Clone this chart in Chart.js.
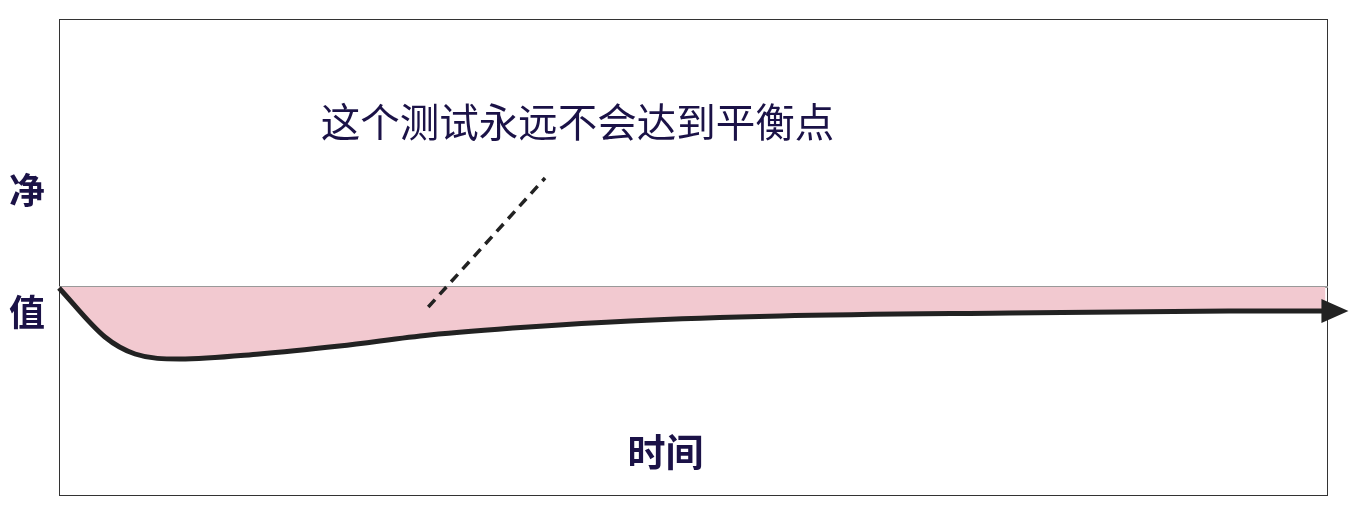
<!DOCTYPE html>
<html>
<head>
<meta charset="utf-8">
<script src="https://cdn.jsdelivr.net/npm/chart.js@4/dist/chart.umd.min.js"></script>
<style>
  html, body { margin: 0; padding: 0; background: #fff; }
  #wrap { width: 1353px; height: 529px; position: relative; }
</style>
</head>
<body>
<div id="wrap"><canvas id="netChart"></canvas></div>
<script>
// 时间轴（0~100 为整个框宽）
var timeX   = [0, 3.62, 6.0, 9.5, 15.8, 22.1, 29.2, 37.0, 45.0, 56.8, 74.9, 92.2, 99.8];
// 净值（0 为平衡线）
var netVal  = [-0.1, -5.0, -6.7, -7.2, -6.7, -5.9, -4.8, -4.0, -3.4, -2.9, -2.6, -2.4, -2.4];
// 平衡线
var zeroX   = [0, 100];
var zeroY   = [0, 0];
// 注释虚线
var noteX   = [29.1, 38.3];
var noteY   = [-2.0, 10.9];
var noteText = '这个测试永远不会达到平衡点';
var yLabels  = ['净', '值'];
var xLabel   = '时间';

function pts(xs, ys) {
	return xs.map(function(x, i) { return { x: x, y: ys[i] }; });
}

var textColor = '#1b1247';

var framePlugin = {
	id: 'frame',
	beforeDatasetsDraw: function(chart) {
		var a = chart.chartArea, ctx = chart.ctx;
		ctx.save();
		ctx.strokeStyle = '#333';
		ctx.lineWidth = 1;
		ctx.strokeRect(a.left + 0.5, a.top + 0.5, a.right - a.left - 1, a.bottom - a.top - 1);
		ctx.restore();
	},
	afterDatasetsDraw: function(chart) {
		var ctx = chart.ctx, a = chart.chartArea;
		var xs = chart.scales.x, ys = chart.scales.y;
		// 箭头
		var meta = chart.getDatasetMeta(0);
		var last = meta.data[meta.data.length - 1];
		ctx.save();
		ctx.fillStyle = '#222';
		ctx.beginPath();
		ctx.moveTo(last.x - 4, last.y - 12);
		ctx.lineTo(last.x + 23, last.y);
		ctx.lineTo(last.x - 4, last.y + 12);
		ctx.closePath();
		ctx.fill();

		// 文字
		ctx.textAlign = 'center';
		ctx.textBaseline = 'middle';
		ctx.fillStyle = textColor;
		ctx.font = '39.5px "Noto Sans CJK SC"';
		ctx.fillText(noteText, xs.getPixelForValue(40.85), ys.getPixelForValue(16.5));

		ctx.font = 'bold 36px "Noto Sans CJK SC"';
		ctx.fillText(yLabels[0], a.left - 32, ys.getPixelForValue(9.7));
		ctx.fillText(yLabels[1], a.left - 32, ys.getPixelForValue(-2.5));

		ctx.font = 'bold 38px "Noto Sans CJK SC"';
		ctx.fillText(xLabel, xs.getPixelForValue(47.8), ys.getPixelForValue(-16.5));
		ctx.restore();
	}
};

var ctx = document.getElementById('netChart').getContext('2d');
new Chart(ctx, {
	type: 'line',
	data: {
		datasets: [
			{
				data: pts(timeX, netVal),
				borderColor: '#222',
				borderWidth: 5,
				backgroundColor: '#f2c9d0',
				fill: 'origin',
				cubicInterpolationMode: 'monotone',
				pointRadius: 0,
				clip: false,
				order: 1
			},
			{
				data: pts(zeroX, zeroY),
				borderColor: '#999',
				borderWidth: 2,
				fill: false,
				pointRadius: 0,
				order: 2
			},
			{
				data: pts(noteX, noteY),
				borderColor: '#222',
				borderWidth: 3.5,
				borderDash: [10, 7],
				fill: false,
				pointRadius: 0,
				order: 0
			}
		]
	},
	options: {
		responsive: true,
		maintainAspectRatio: false,
		animation: false,
		layout: { padding: { left: 59, top: 19, right: 25, bottom: 33 } },
		plugins: {
			legend: { display: false },
			tooltip: { enabled: false }
		},
		scales: {
			x: { type: 'linear', min: 0, max: 100, display: false },
			y: { min: -20.9, max: 26.8, display: false }
		}
	},
	plugins: [framePlugin]
});
</script>
</body>
</html>
